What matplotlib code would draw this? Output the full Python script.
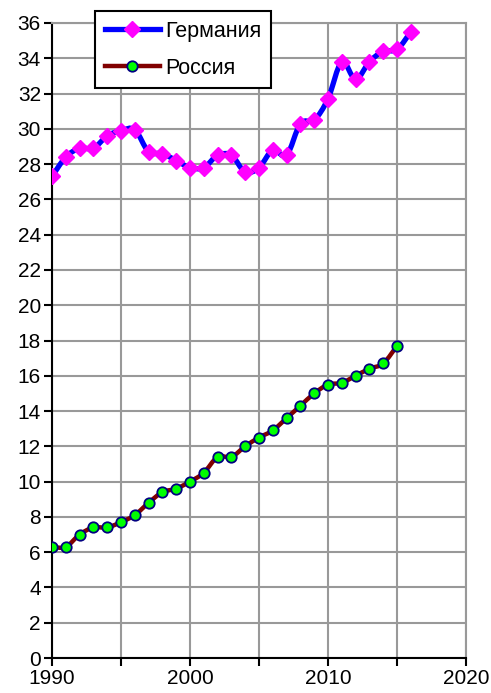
import numpy as np
import matplotlib
matplotlib.use("Agg")
import matplotlib.pyplot as plt
from matplotlib.path import Path
from matplotlib.patches import PathPatch
from matplotlib.lines import Line2D

plt.rcParams['font.family'] = ['Liberation Sans', 'DejaVu Sans']

years_de = list(range(1990, 2017))
germany = [27.3, 28.4, 28.9, 28.9, 29.6, 29.9, 29.95, 28.7, 28.6, 28.2, 27.8, 27.8,
           28.5, 28.5, 27.55, 27.8, 28.8, 28.5, 30.3, 30.5, 31.7, 33.8, 32.8, 33.8,
           34.4, 34.5, 35.5]
years_ru = list(range(1990, 2016))
russia = [6.3, 6.3, 7.0, 7.4, 7.4, 7.7, 8.1, 8.8, 9.4, 9.6, 10.0, 10.5, 11.4, 11.4,
          12.0, 12.5, 12.9, 13.6, 14.3, 15.0, 15.5, 15.6, 16.0, 16.4, 16.7, 17.7]
labels = ['Германия', 'Россия']

W, H = 491, 693
fig = plt.figure(figsize=(W / 100, H / 100), dpi=100)
ax = fig.add_axes([52 / W, 35 / H, (466 - 52) / W, (658 - 23) / H])


def smooth_path(x, y, tension=1 / 6):
    x = np.asarray(x, float)
    y = np.asarray(y, float)
    verts = [(x[0], y[0])]
    codes = [Path.MOVETO]
    n = len(x)
    for i in range(n - 1):
        p0 = (x[max(i - 1, 0)], y[max(i - 1, 0)])
        p1 = (x[i], y[i])
        p2 = (x[i + 1], y[i + 1])
        p3 = (x[min(i + 2, n - 1)], y[min(i + 2, n - 1)])
        c1 = (p1[0] + (p2[0] - p0[0]) * tension, p1[1] + (p2[1] - p0[1]) * tension)
        c2 = (p2[0] - (p3[0] - p1[0]) * tension, p2[1] - (p3[1] - p1[1]) * tension)
        verts += [c1, c2, p2]
        codes += [Path.CURVE4] * 3
    return Path(verts, codes)


ax.add_patch(PathPatch(smooth_path(years_de, germany), facecolor='none',
                       edgecolor='#0000FF', lw=3.8, zorder=3, capstyle='round'))
ax.add_patch(PathPatch(smooth_path(years_ru, russia), facecolor='none',
                       edgecolor='#800000', lw=3.2, zorder=3, capstyle='round'))
ax.plot(years_de, germany, ls='none', marker='D', ms=8.5, mfc='#FF00FF', mec='#FF00FF', zorder=4)
ax.plot(years_ru, russia, ls='none', marker='o', ms=7.5, mfc='#00FF00', mec='#000080',
        mew=1.3, zorder=4)

ax.set_xlim(1990, 2020)
ax.set_ylim(0, 36)
ax.set_xticks(range(1990, 2021, 5))
ax.set_xticklabels([str(v) if v % 10 == 0 else '' for v in range(1990, 2021, 5)])
ax.set_yticks(range(0, 37, 2))
ax.grid(True, color='#999999', lw=1.5)
ax.set_axisbelow(True)
for s in ['top', 'right']:
    ax.spines[s].set_color('#999999')
    ax.spines[s].set_linewidth(1.5)
for s in ['left', 'bottom']:
    ax.spines[s].set_color('black')
    ax.spines[s].set_linewidth(1.5)
ax.tick_params(direction='out', length=6, width=1.5, color='black', labelsize=15, pad=2)

handles = [
    Line2D([], [], color='#0000FF', lw=3.8, marker='D', ms=8.5, mfc='#FF00FF', mec='#FF00FF'),
    Line2D([], [], color='#800000', lw=3.2, marker='o', ms=7.5, mfc='#00FF00', mec='#000080', mew=1.3),
]
leg = ax.legend(handles, labels, loc='upper left', bbox_to_anchor=(95 / W, 1 - 11 / H),
                bbox_transform=fig.transFigure, fontsize=15.5, frameon=True, fancybox=False,
                framealpha=1, edgecolor='black', handlelength=2.55, numpoints=1,
                borderpad=0.45, labelspacing=0.74, handletextpad=0.25, borderaxespad=0)
leg.get_frame().set_linewidth(1.5)
leg.set_zorder(10)

fig.savefig('out.png', dpi=100)
